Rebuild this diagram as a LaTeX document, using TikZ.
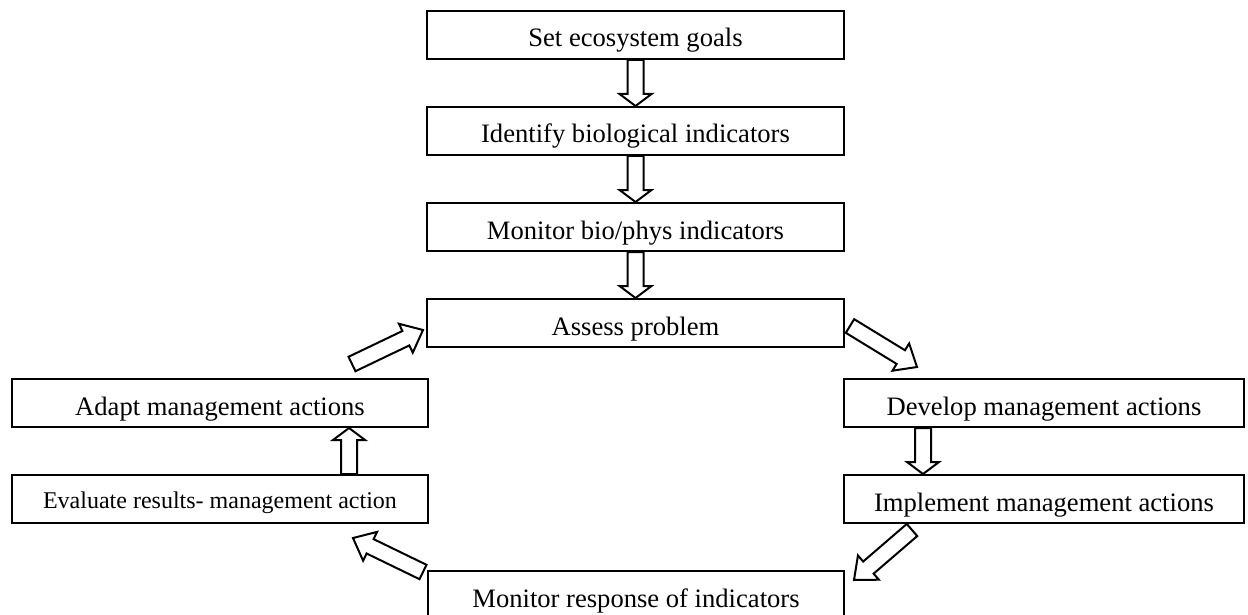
\documentclass[tikz,border=0pt]{standalone}
\usepackage{fontspec}
\setmainfont{Liberation Serif}
\usetikzlibrary{calc,positioning}

% hollow block arrow: [head length]{tail}{tip}
\newcommand{\hollowarrow}[3][6pt]{%
  \path ($(#3)!#1!(#2)$) coordinate (hb);
  \draw[arrowline] ($(#2)!4pt!90:(#3)$) -- ($(hb)!4pt!90:(#3)$) -- ($(hb)!8pt!90:(#3)$) -- (#3)
    -- ($(hb)!8pt!-90:(#3)$) -- ($(hb)!4pt!-90:(#3)$) -- ($(#2)!4pt!-90:(#3)$) -- cycle;}

\begin{document}
\begin{tikzpicture}[x=0.5pt,y=-0.5pt,
    stagebox/.style={draw, line width=1pt, inner sep=0pt, minimum height=24pt,
      text height=12pt, text depth=0pt, font=\fontsize{13.3}{15}\selectfont},
    arrowline/.style={draw, fill=white, line width=1pt, line join=miter}]
    \useasboundingbox (0,0) rectangle (1248,615);
    \clip (0,0) rectangle (1248,615);

    % Top column
    \node[stagebox, minimum width=208.5pt] (goals) at (635.5,35) {Set ecosystem goals};
    \node[stagebox, minimum width=208.5pt] (indic) at (635.5,131) {Identify biological indicators};
    \node[stagebox, minimum width=208.5pt] (monit) at (635.5,227) {Monitor bio/phys indicators};
    \node[stagebox, minimum width=208.5pt] (assess) at (635.5,323) {Assess problem};

    % Left side
    \node[stagebox, minimum width=208pt] (adapt) at (220,403) {Adapt management actions};
    \node[stagebox, minimum width=208pt, text height=9pt, font=\fontsize{12}{14}\selectfont] (evaluate) at (220,499) {Evaluate results- management action};

    % Right side
    \node[stagebox, minimum width=200pt] (develop) at (1044,403) {Develop management actions};
    \node[stagebox, minimum width=200pt] (implement) at (1044,499) {Implement management actions};

    % Bottom
    \node[stagebox, minimum width=208pt] (response) at (636,595) {Monitor response of indicators};

    % Straight arrows
    \hollowarrow{goals.south}{indic.north}
    \hollowarrow{indic.south}{monit.north}
    \hollowarrow{monit.south}{assess.north}
    \coordinate (d1) at ($(develop.south west)+(80,0)$);
    \coordinate (d2) at ($(implement.north west)+(80,0)$);
    \hollowarrow{d1}{d2}
    \coordinate (e1) at ($(evaluate.north east)+(-80,0)$);
    \coordinate (e2) at ($(adapt.south east)+(-80,0)$);
    \hollowarrow{e1}{e2}

    % Slanted arrows round the loop
    \coordinate (s1) at ($(assess.east)+(5,3)$);
    \coordinate (s2) at ($(develop.north west)+(74,-11)$);
    \hollowarrow[9.5pt]{s1}{s2}
    \coordinate (r1) at ($(implement.south west)+(69,6)$);
    \coordinate (r2) at ($(response.north east)+(9,10)$);
    \hollowarrow[9.5pt]{r1}{r2}
    \coordinate (v1) at ($(response.north west)+(-4,2)$);
    \coordinate (v2) at ($(evaluate.south east)+(-76,14)$);
    \hollowarrow[9.5pt]{v1}{v2}
    \coordinate (a1) at ($(adapt.north east)+(-77,-14)$);
    \coordinate (a2) at ($(assess.west)+(-3,7)$);
    \hollowarrow[9.5pt]{a1}{a2}
\end{tikzpicture}
\end{document}
